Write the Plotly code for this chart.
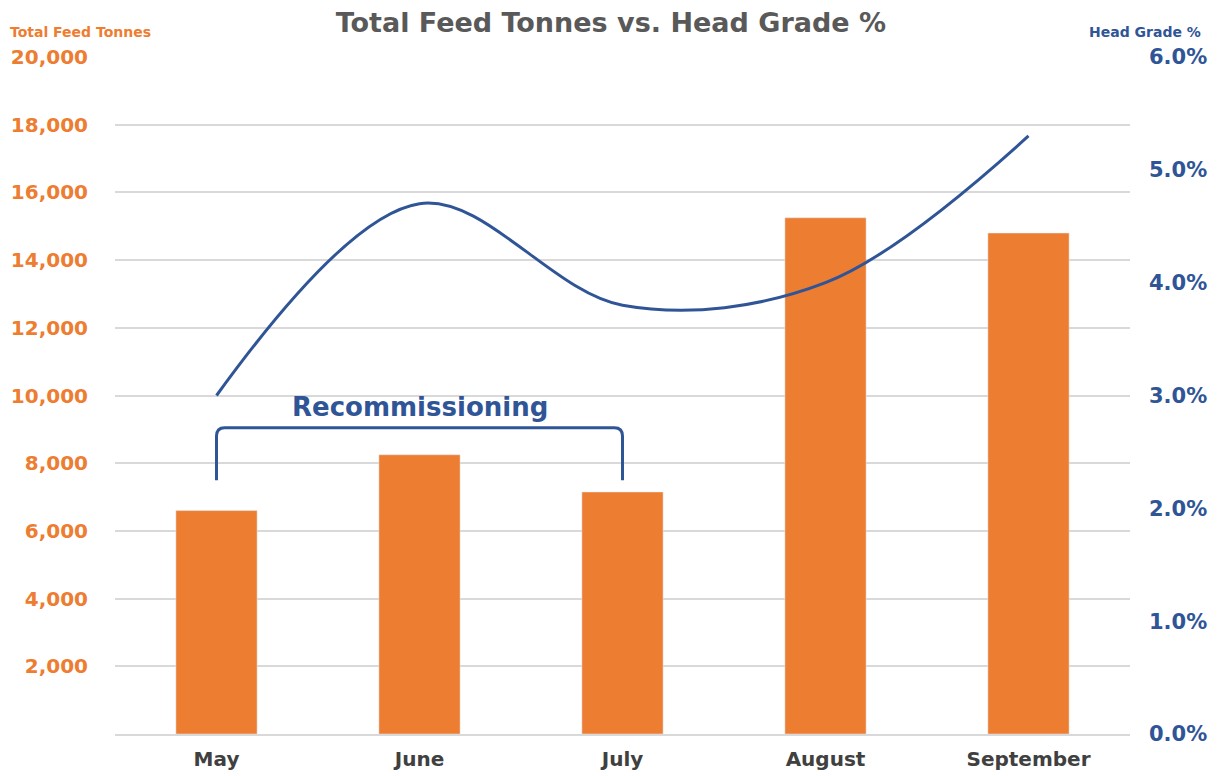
import plotly.graph_objects as go

months = ["May", "June", "July", "August", "September"]
feed_tonnes = [6600, 8250, 7150, 15250, 14800]
head_grade = [0.030, 0.047, 0.038, 0.040, 0.053]
tonne_ticks = [2000, 4000, 6000, 8000, 10000, 12000, 14000, 16000, 18000, 20000]

ORANGE = "#ED7D31"
BLUE = "#2F5597"
GRID = "#D9D9D9"
FONT = "DejaVu Sans"

fig = go.Figure()
fig.add_trace(go.Bar(x=months, y=feed_tonnes, marker_color=ORANGE, width=0.4,
                     name="Total Feed Tonnes", yaxis="y"))
fig.add_trace(go.Scatter(x=months, y=head_grade, mode="lines", name="Head Grade %",
                         line=dict(color=BLUE, width=3, shape="spline", smoothing=1.0),
                         yaxis="y2"))

# bracket over the recommissioning months (May .. July)
x0, x1 = 0, 2
yb, yt = 7500, 9050
rx, ry = 0.04, 250
path = (f"M {x0},{yb} L {x0},{yt - ry} Q {x0},{yt} {x0 + rx},{yt} "
        f"L {x1 - rx},{yt} Q {x1},{yt} {x1},{yt - ry} L {x1},{yb}")
fig.add_shape(type="path", path=path, xref="x", yref="y",
              line=dict(color=BLUE, width=3))
fig.add_annotation(x=1, y=9650, xref="x", yref="y", text="Recommissioning",
                   showarrow=False,
                   font=dict(family=FONT, size=26, color=BLUE, weight="bold"))

# axis titles sit above the tick labels, as in the original
fig.add_annotation(x=-0.034, y=1.037, xref="paper", yref="paper",
                   xanchor="center", yanchor="middle",
                   text="Total Feed Tonnes", showarrow=False,
                   font=dict(family=FONT, size=14, color=ORANGE, weight="bold"))
fig.add_annotation(x=1.072, y=1.037, xref="paper", yref="paper",
                   xanchor="right", yanchor="middle",
                   text="Head Grade %", showarrow=False,
                   font=dict(family=FONT, size=14, color=BLUE, weight="bold"))

# the page body adds an 8px offset, so the figure is 8px smaller
fig.update_layout(
    width=1213, height=768,
    margin=dict(l=107, r=91, t=49, b=42, autoexpand=False),
    paper_bgcolor="white", plot_bgcolor="white",
    showlegend=False,
    title=dict(text="Total Feed Tonnes vs. Head Grade %", x=0.497, y=0.981,
               xanchor="center", yanchor="middle",
               font=dict(family=FONT, size=27, color="#595959", weight="bold")),
    xaxis=dict(showgrid=False, showline=True, linecolor=GRID, linewidth=2,
               ticks="", automargin=False, ticklabelstandoff=6,
               tickfont=dict(family=FONT, size=20, color="#404040", weight="bold")),
    yaxis=dict(range=[0, 20000], tickvals=tonne_ticks, tickformat=",", showgrid=True,
               gridcolor=GRID, gridwidth=2, zeroline=False, automargin=False,
               ticklabelstandoff=26,
               tickfont=dict(family=FONT, size=20, color=ORANGE, weight="bold")),
    yaxis2=dict(range=[0, 0.06], dtick=0.01, tickformat=".1%", overlaying="y",
                side="right", showgrid=False, zeroline=False, automargin=False,
                ticklabelstandoff=18,
                tickfont=dict(family=FONT, size=21, color=BLUE, weight="bold")),
)

fig.write_html("out.html")
